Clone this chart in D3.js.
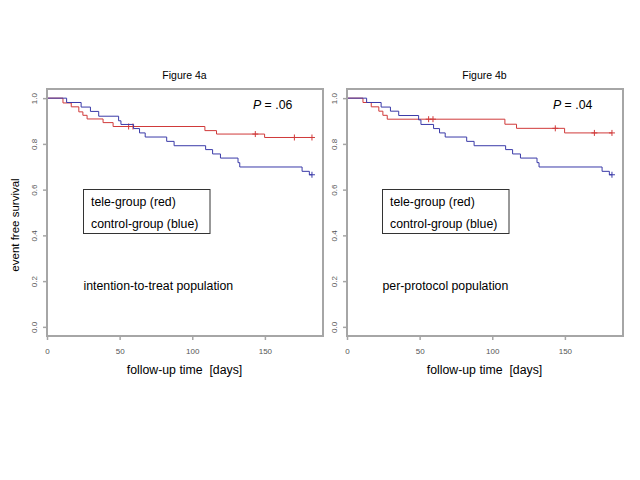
<!DOCTYPE html>
<html>
<head>
<meta charset="utf-8">
<script src="https://cdn.jsdelivr.net/npm/d3@7"></script>
<style>
  html, body { margin: 0; padding: 0; background: #fff; }
  svg { display: block; }
  text { font-family: "Liberation Sans", Arial, sans-serif; }
</style>
</head>
<body>
<svg id="chart" width="640" height="480"></svg>
<script>
// ---------- data ----------
const xTicks = [0, 50, 100, 150];
const yTicks = [0.0, 0.2, 0.4, 0.6, 0.8, 1.0];
const panelTitles = ["Figure 4a", "Figure 4b"];
const populations = ["intention-to-treat population", "per-protocol population"];
const pValues = [".06", ".04"];
const legendLabels = ["tele-group (red)", "control-group (blue)"];

// Panel a – tele-group (red)
const redA_times  = [11.0, 16.7, 21.9, 24.7, 27.6, 38.6, 45.5, 108.7, 116.7, 149.8];
const redA_surv   = [0.979, 0.962, 0.940, 0.925, 0.909, 0.893, 0.876, 0.858, 0.843, 0.828];
const redA_censor = [56.2, 59.2, 143.4, 170.3, 182.4];
// Panel a – control-group (blue)
const blueA_times  = [13.5, 23.5, 29.9, 35.6, 49.3, 50.9, 59.6, 63.7, 67.6, 82.4, 87.5, 109.2, 114.0, 119.4, 131.5, 132.7, 175.6, 180.6];
const blueA_surv   = [0.981, 0.961, 0.942, 0.921, 0.901, 0.885, 0.867, 0.848, 0.830, 0.811, 0.792, 0.775, 0.756, 0.738, 0.718, 0.699, 0.680, 0.665];
const blueA_censor = [182.4];

// Panel b – tele-group (red)
const redB_times  = [11.0, 16.7, 21.9, 24.7, 27.7, 108.7, 116.7, 149.8];
const redB_surv   = [0.981, 0.962, 0.943, 0.925, 0.908, 0.886, 0.868, 0.848];
const redB_censor = [56.2, 59.2, 143.4, 170.3, 182.4];
// Panel b – control-group (blue)
const blueB_times  = [13.5, 23.5, 29.9, 35.6, 49.3, 50.9, 59.6, 63.7, 67.6, 82.4, 87.5, 109.2, 114.0, 119.4, 130.8, 132.2, 175.6, 180.6];
const blueB_surv   = [0.981, 0.961, 0.943, 0.924, 0.905, 0.885, 0.867, 0.848, 0.830, 0.811, 0.792, 0.775, 0.756, 0.738, 0.718, 0.699, 0.680, 0.665];
const blueB_censor = [182.4];

// ---------- styling ----------
const RED = "#d03a3a", BLUE = "#3a3aa8";
const FRAME = "#a6a6a6";
const TICKTXT = "#555";

const svg = d3.select("#chart");
svg.append("rect").attr("width", 640).attr("height", 480).attr("fill", "#fff");

const panels = [
  { left: 47, right: 323, red: [redA_times, redA_surv, redA_censor], blue: [blueA_times, blueA_surv, blueA_censor],
    legendX: 83.5, legendW: 126.5, popX: 83.5, pX: 253 },
  { left: 347, right: 623, red: [redB_times, redB_surv, redB_censor], blue: [blueB_times, blueB_surv, blueB_censor],
    legendX: 382.5, legendW: 126.5, popX: 382.5, pX: 553 }
];
const plotTop = 89, plotBottom = 336;

function stepPoints(times, surv, censor) {
  const pts = [{ t: 0, s: 1 }];
  times.forEach((t, i) => pts.push({ t: t, s: surv[i] }));
  const end = d3.max(censor.concat(times));
  pts.push({ t: end, s: surv[surv.length - 1] });
  return pts;
}
function survAt(times, surv, t) {
  let s = 1;
  times.forEach((tt, i) => { if (tt <= t) s = surv[i]; });
  return s;
}

panels.forEach((p, k) => {
  const x = d3.scaleLinear().domain([0, 190]).range([p.left, p.right]);
  const y = d3.scaleLinear().domain([-0.04, 1.04]).range([plotBottom, plotTop]);
  const g = svg.append("g");

  // curves
  [[p.red, RED], [p.blue, BLUE]].forEach(([d, col]) => {
    const [times, surv, censor] = d;
    const line = d3.line().x(q => x(q.t)).y(q => y(q.s)).curve(d3.curveStepAfter);
    g.append("path").datum(stepPoints(times, surv, censor))
      .attr("d", line).attr("fill", "none").attr("stroke", col).attr("stroke-width", 1);
    censor.forEach(c => {
      const cx = x(c), cy = y(survAt(times, surv, c));
      g.append("line").attr("x1", cx).attr("x2", cx).attr("y1", cy - 3).attr("y2", cy + 3)
        .attr("stroke", col).attr("stroke-width", 1);
      g.append("line").attr("x1", cx - 3).attr("x2", cx + 3).attr("y1", cy).attr("y2", cy)
        .attr("stroke", col).attr("stroke-width", 1);
    });
  });

  // frame
  g.append("rect").attr("x", p.left).attr("y", plotTop)
    .attr("width", p.right - p.left).attr("height", plotBottom - plotTop)
    .attr("fill", "none").attr("stroke", FRAME).attr("stroke-width", 2);

  // x axis
  const xa = g.append("g").attr("transform", `translate(0,${plotBottom})`)
    .call(d3.axisBottom(x).tickValues(xTicks).tickSize(4).tickPadding(8).tickFormat(d3.format("d")));
  xa.select(".domain").remove();
  xa.selectAll("line").attr("stroke", FRAME).attr("stroke-width", 1.5);
  xa.selectAll("text").attr("fill", TICKTXT).attr("font-size", 8)
    .style("font-family", "'Liberation Sans', Arial, sans-serif");

  // y axis
  const ya = g.append("g").attr("transform", `translate(${p.left},0)`)
    .call(d3.axisLeft(y).tickValues(yTicks).tickSize(4).tickFormat(d3.format(".1f")));
  ya.select(".domain").remove();
  ya.selectAll("line").attr("stroke", FRAME).attr("stroke-width", 1.5);
  ya.selectAll("text").attr("fill", TICKTXT).attr("font-size", 8)
    .style("font-family", "'Liberation Sans', Arial, sans-serif")
    .attr("x", null).attr("dy", null)
    .attr("text-anchor", "middle").attr("dominant-baseline", "central")
    .attr("transform", "translate(-13,0) rotate(-90)");

  const cx = (p.left + p.right) / 2 - 0.5;

  // title
  g.append("text").attr("x", cx).attr("y", 79).attr("text-anchor", "middle")
    .attr("font-size", 10.5).attr("fill", "#000").text(panelTitles[k]);

  // x title
  g.append("text").attr("x", cx).attr("y", 374).attr("text-anchor", "middle")
    .attr("font-size", 12.3).attr("fill", "#000").attr("xml:space", "preserve")
    .text("follow-up time  [days]");

  // P value
  const pt = g.append("text").attr("x", p.pX).attr("y", 109).attr("font-size", 12.3).attr("fill", "#000");
  pt.append("tspan").attr("font-style", "italic").text("P");
  pt.append("tspan").text(" = " + pValues[k]);

  // legend box
  g.append("rect").attr("x", p.legendX).attr("y", 189.5).attr("width", p.legendW).attr("height", 44)
    .attr("fill", "none").attr("stroke", "#333").attr("stroke-width", 1);
  legendLabels.forEach((lab, i) => {
    g.append("text").attr("x", p.legendX + 7.5).attr("y", 206 + i * 22)
      .attr("font-size", 12.3).attr("fill", "#000").text(lab);
  });

  // population label
  g.append("text").attr("x", p.popX).attr("y", 290).attr("font-size", 12.3)
    .attr("fill", "#000").text(populations[k]);
});

// y axis title
svg.append("text").attr("transform", "translate(15,225) rotate(-90)")
  .attr("text-anchor", "middle").attr("dominant-baseline", "central")
  .attr("font-size", 11.5).attr("fill", "#000").text("event free survival");
</script>
</body>
</html>
